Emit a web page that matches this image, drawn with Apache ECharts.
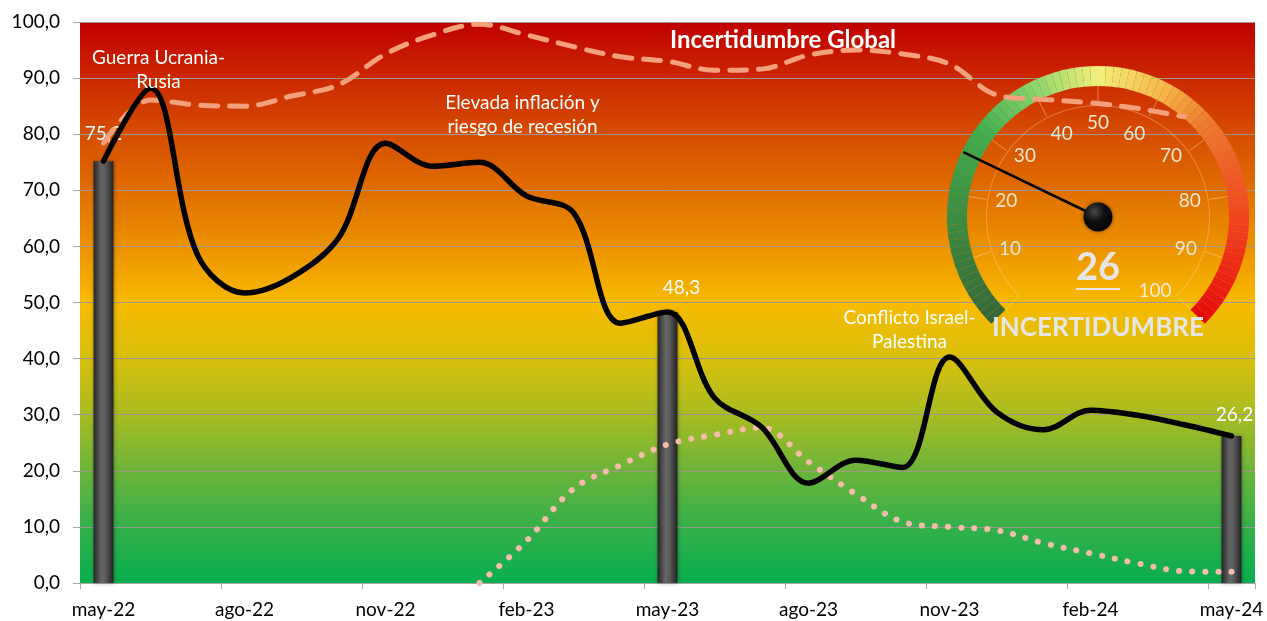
<!DOCTYPE html>
<html>
<head>
<meta charset="utf-8">
<script src="https://cdn.jsdelivr.net/npm/echarts@6/dist/echarts.min.js"></script>
<style>
  html, body { margin: 0; padding: 0; background: #ffffff; }
  #chart { width: 1267px; height: 621px; }
</style>
</head>
<body>
<div id="chart"></div>
<script>
// ---------------- DATA ----------------
const months = ['may-22','jun-22','jul-22','ago-22','sep-22','oct-22','nov-22','dic-22','ene-23','feb-23','mar-23','abr-23',
                'may-23','jun-23','jul-23','ago-23','sep-23','oct-23','nov-23','dic-23','ene-24','feb-24','mar-24','abr-24','may-24'];

// Índice de incertidumbre (línea negra)
const incertidumbre = [75.2, 88.2, 58.5, 51.7, 54.5, 61.5, 78.4, 74.3, 75.0, 69.0, 66.0, 46.3,
                       48.3, 33.0, 27.8, 17.8, 21.9, 20.6, 40.3, 30.5, 27.3, 30.8, 29.9, 28.2, 26.2];

// Línea discontinua (salmón)
const discontinua = [78.4, 86.1, 85.2, 85.0, 86.8, 88.8, 94.3, 97.7, 99.6, 97.7, 95.6, 93.8,
                     93.0, 91.4, 91.6, 94.1, 95.0, 94.3, 92.5, 87.0, 86.2, 85.6, 84.6, 83.1, null];

// Línea punteada (rosa)
const punteada = [null, null, null, null, null, null, null, null, 0.0, 7.5, 16.8, 21.0,
                  24.7, 26.4, 27.7, 21.6, 15.9, 10.9, 10.0, 9.4, 7.1, 5.3, 3.5, 2.1, 2.0];

// Barras (valores destacados)
const barras = [75.2, null, null, null, null, null, null, null, null, null, null, null,
                48.3, null, null, null, null, null, null, null, null, null, null, null, 26.2];

// Anotaciones
const notaTextos = ['Guerra Ucrania-\nRusia', 'Elevada inflación y\nriesgo de recesión', 'Conflicto Israel-\nPalestina'];
const notaMeses  = ['jun-22', 'feb-23', 'oct-23'];
const notaValores = [91.4, 83.5, 45.1];

const titulo = 'Incertidumbre Global';
const gaugeNombre = 'INCERTIDUMBRE';
const gaugeValor = 26.2;
const gaugeTicks = [0, 10, 20, 30, 40, 50, 60, 70, 80, 90, 100];

// ---------------- STYLE HELPERS ----------------
const FONT = 'Lato';
const notaOffsets = [[8, 0], [-4, 0], [7, 0]];
const barLabelOffsets = {0: [0, -3], 12: [14, 0], 24: [3, 3]};

function hexToRgb(h) { h = h.replace('#',''); return [parseInt(h.substr(0,2),16), parseInt(h.substr(2,2),16), parseInt(h.substr(4,2),16)]; }
function mix(a, b, t) { const A = hexToRgb(a), B = hexToRgb(b); return 'rgb(' + A.map((v,i)=>Math.round(v + (B[i]-v)*t)).join(',') + ')'; }
const arcKeys = [[0,'#36663A'],[0.15,'#3C8840'],[0.3,'#3FAE50'],[0.4,'#86D46C'],[0.5,'#F2F07C'],[0.6,'#F5B848'],
                 [0.68,'#EC7C30'],[0.85,'#F0401E'],[1,'#E40A0A']];
function arcColorAt(t) {
  for (let k = 1; k < arcKeys.length; k++) {
    if (t <= arcKeys[k][0]) {
      const a = arcKeys[k-1], b = arcKeys[k];
      return mix(a[1], b[1], (t - a[0]) / (b[0] - a[0]));
    }
  }
  return arcKeys[arcKeys.length-1][1];
}
const arcSegments = [];
const NSEG = 90;
for (let s = 1; s <= NSEG; s++) arcSegments.push([s / NSEG, arcColorAt((s - 0.5) / NSEG)]);

const comma = v => Number(v).toFixed(1).replace('.', ',');

const bgGradient = new echarts.graphic.LinearGradient(0, 0, 0, 1, [
  {offset: 0.00, color: '#C00000'},
  {offset: 0.10, color: '#CB2800'},
  {offset: 0.20, color: '#D64D00'},
  {offset: 0.30, color: '#E06E00'},
  {offset: 0.40, color: '#EC9200'},
  {offset: 0.50, color: '#F8BA00'},
  {offset: 0.60, color: '#D8C00C'},
  {offset: 0.70, color: '#A8BC22'},
  {offset: 0.80, color: '#6CB43A'},
  {offset: 0.90, color: '#34B04A'},
  {offset: 1.00, color: '#08AE4E'}
]);

const barGradient = new echarts.graphic.LinearGradient(0, 0, 1, 0, [
  {offset: 0, color: '#262626'},
  {offset: 0.4, color: '#676767'},
  {offset: 0.6, color: '#5a5a5a'},
  {offset: 1, color: '#222222'}
]);

const chart = echarts.init(document.getElementById('chart'), null, {renderer: 'canvas'});

const option = {
  animation: false,
  textStyle: {fontFamily: FONT},
  title: {
    text: titulo, left: 783, top: 28, textAlign: 'center', padding: 0,
    textStyle: {color: '#ffffff', fontSize: 24, fontWeight: 'bold', fontFamily: FONT}
  },
  grid: {
    left: 80, right: 12, top: 22, bottom: 38, containLabel: false, outerBoundsMode: 'none',
    show: true, backgroundColor: bgGradient, borderWidth: 0
  },
  xAxis: {
    type: 'category', data: months, boundaryGap: true,
    axisLine: {show: true, lineStyle: {color: '#A6A6A6', width: 1}},
    axisTick: {show: true, interval: 2, length: 6, alignWithLabel: false, lineStyle: {color: '#A6A6A6'}},
    axisLabel: {interval: 2, color: '#000', fontSize: 19, fontFamily: FONT, margin: 17},
    splitLine: {show: false}
  },
  yAxis: {
    type: 'value', min: 0, max: 100, interval: 10,
    axisLine: {show: false},
    axisTick: {show: true, length: 7, lineStyle: {color: '#A6A6A6'}},
    axisLabel: {color: '#000', fontSize: 19, fontFamily: FONT, margin: 20, formatter: comma},
    splitLine: {show: true, lineStyle: {color: '#A0968C', width: 1}}
  },
  series: [
    {
      type: 'gauge', z: 1,
      center: [1098, 217], radius: 112, startAngle: 225, endAngle: -45, min: 0, max: 100,
      axisLine: {lineStyle: {width: 1, color: [[1, 'rgba(255,225,190,0.35)']]}},
      splitLine: {show: false}, axisTick: {show: false}, axisLabel: {show: false},
      pointer: {show: false}, anchor: {show: false}, title: {show: false}, detail: {show: false},
      data: [{value: 0}]
    },
    {
      type: 'gauge', z: 1,
      center: [1098, 217], radius: 151, startAngle: 225, endAngle: -45, min: 0, max: 100, splitNumber: 10,
      axisLine: {lineStyle: {width: 20, color: arcSegments}},
      splitLine: {show: true, length: 18, distance: 0, lineStyle: {color: 'rgba(255,225,190,0.45)', width: 1}},
      axisTick: {show: false},
      axisLabel: {
        distance: 29, color: '#F6E8D6', fontSize: 19, fontFamily: FONT,
        formatter: v => (gaugeTicks.indexOf(v) > 0 ? String(v) : '')
      },
      pointer: {show: true, icon: 'rect', width: 2.5, length: '99%', itemStyle: {color: '#000'}},
      anchor: {
        show: true, showAbove: true, size: 29,
        itemStyle: {
          color: new echarts.graphic.RadialGradient(0.38, 0.32, 0.75, [
            {offset: 0, color: '#4a4a4a'}, {offset: 0.45, color: '#111'}, {offset: 1, color: '#000'}
          ]),
          shadowColor: 'rgba(0,0,0,0.4)', shadowBlur: 4
        }
      },
      title: {show: true, offsetCenter: [0, 111], color: '#E6E6E6', fontSize: 26, fontWeight: 'bold', fontFamily: FONT},
      detail: {
        show: true, offsetCenter: [0, 52],
        formatter: v => '{v|' + Math.round(v) + '}\n{u| }',
        rich: {
          v: {fontSize: 38, fontWeight: 'bold', color: '#E6E6E6', fontFamily: FONT, lineHeight: 40, align: 'center'},
          u: {width: 44, height: 2, lineHeight: 3, backgroundColor: '#E6E6E6', align: 'center', fontSize: 1}
        }
      },
      data: [{value: gaugeValor, name: gaugeNombre}]
    },
    {
      type: 'bar', z: 2, barWidth: 20,
      data: barras.map((v, i) => v == null ? null : {
        value: v,
        label: {offset: barLabelOffsets[i] || [0, 0]}
      }),
      itemStyle: {color: barGradient, shadowColor: 'rgba(0,0,0,0.35)', shadowBlur: 4},
      label: {show: true, position: 'top', distance: 15, color: '#fff', fontSize: 19, fontFamily: FONT, formatter: p => comma(p.value)}
    },
    {
      type: 'line', z: 3, data: punteada, smooth: 0.35, showSymbol: false, connectNulls: false,
      lineStyle: {color: '#F6BCAA', width: 6, type: [0.1, 13], cap: 'round'}
    },
    {
      type: 'line', z: 3, data: discontinua, smooth: 0.35, showSymbol: false,
      lineStyle: {color: '#F4A07C', width: 5, type: [17, 12], cap: 'round'}
    },
    {
      type: 'line', z: 4, data: incertidumbre, smooth: 0.35, showSymbol: false,
      lineStyle: {color: '#000', width: 5.5, cap: 'round', join: 'round'},
      markPoint: {
        symbol: 'circle', symbolSize: 1, itemStyle: {color: 'rgba(0,0,0,0)'},
        label: {show: true, position: 'inside', color: '#fff', fontSize: 19, lineHeight: 24, fontFamily: FONT,
                align: 'center', verticalAlign: 'middle', formatter: p => p.name},
        data: notaTextos.map((t, i) => ({name: t, coord: [notaMeses[i], notaValores[i]], label: {offset: notaOffsets[i]}}))
      }
    }
  ]
};
chart.setOption(option);
</script>
</body>
</html>
